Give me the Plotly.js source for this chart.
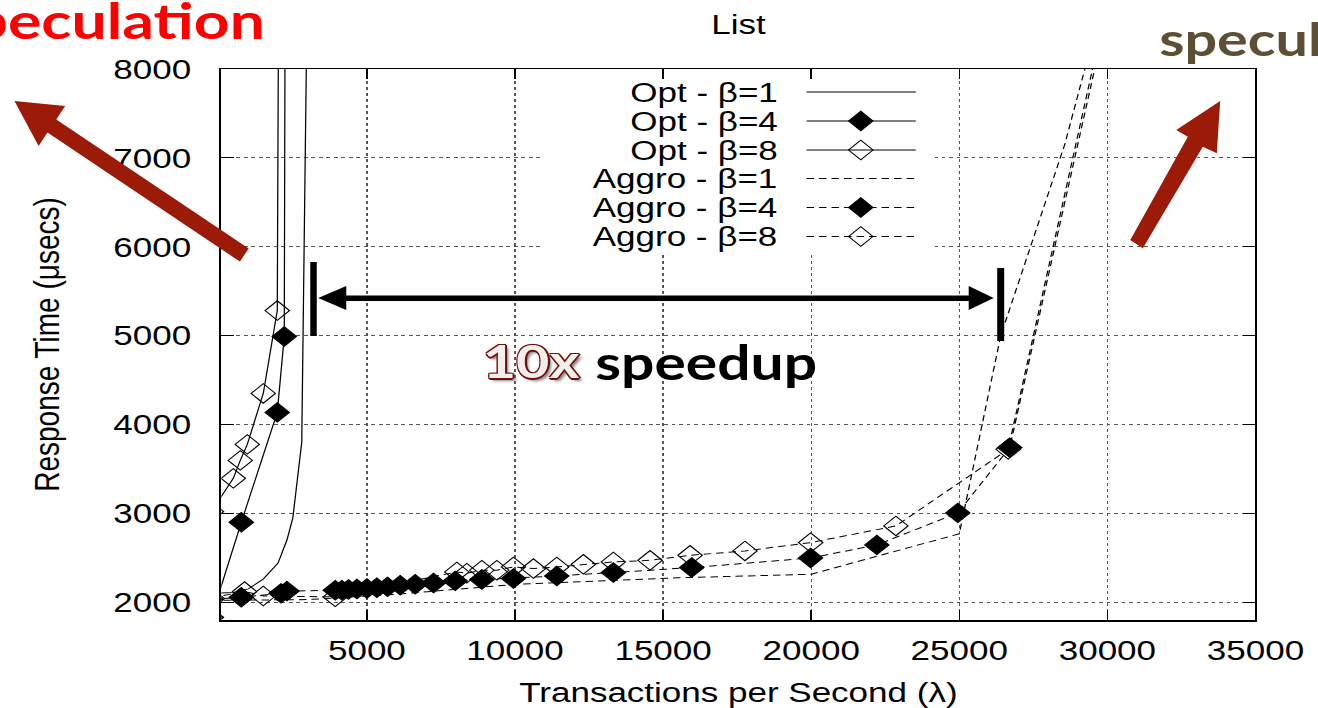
<!DOCTYPE html>
<html><head><meta charset="utf-8">
<script src="https://cdn.plot.ly/plotly-3.0.1.min.js"></script>
<style>
html,body{margin:0;padding:0;background:#fff;overflow:hidden;width:1318px;height:708px}
#chart{width:1054px;height:708px;transform:scaleX(1.25047);transform-origin:0 0;}
</style>
</head><body><div id="chart"></div>
<script>
// ---- data ----
const seriesNames = ['Opt - β=1','Opt - β=4','Opt - β=8','Aggro - β=1','Aggro - β=4','Aggro - β=8'];

const optB1X = [-250, 500, 1000, 1500, 2000, 2300, 2500, 2800, 2990];
const optB1Y = [2100, 2110, 2150, 2260, 2440, 2700, 2950, 3800, 9000];

const optB4X = [-250, 759, 1974, 2210, 2240];
const optB4Y = [1830, 2899, 4136, 4990, 9000];

const optB8X = [-250, 489, 725, 962, 1501, 1974, 2020];
const optB8Y = [3020, 3394, 3596, 3776, 4349, 5282, 9000];

const aggB1X = [-250, 3000, 6000, 10000, 15500, 20000, 25000, 26400, 28560, 30000];
const aggB1Y = [2020, 2030, 2090, 2200, 2275, 2315, 2770, 5000, 7150, 8950];

const aggB4X = [-250, 759, 2100, 2300, 3931, 4156, 4379, 4663, 5000, 5337, 5696, 6124, 6630, 7249, 7981, 8881, 9948, 11411, 13322, 15967, 19981, 22218, 24950, 26702, 30920];
const aggB4Y = [2030, 2056, 2100, 2125, 2135, 2135, 2143, 2148, 2155, 2162, 2173, 2191, 2202, 2217, 2240, 2255, 2267, 2296, 2334, 2390, 2498, 2645, 3005, 3740, 10000];

const aggB8X = [-250, 870, 1500, 3930, 8037, 8374, 8881, 9387, 9948, 10622, 11411, 12309, 13321, 14559, 15909, 17764, 19981, 22859, 26650, 30830];
const aggB8Y = [2050, 2120, 2070, 2060, 2341, 2326, 2360, 2360, 2397, 2379, 2397, 2427, 2453, 2472, 2528, 2577, 2671, 2858, 3720, 10000];

const xTickVals = [5000, 10000, 15000, 20000, 25000, 30000, 35000];
const yTickVals = [2000, 3000, 4000, 5000, 6000, 7000, 8000];

// ---- styles ----
const DASH = '6px,4px';
const styles = [
  {dash:'solid', mode:'lines', symbol:null},
  {dash:'solid', mode:'lines+markers', symbol:'diamond'},
  {dash:'solid', mode:'lines+markers', symbol:'diamond-open'},
  {dash:DASH, mode:'lines', symbol:null},
  {dash:DASH, mode:'lines+markers', symbol:'diamond'},
  {dash:DASH, mode:'lines+markers', symbol:'diamond-open'}
];
const seriesData = [[optB1X,optB1Y],[optB4X,optB4Y],[optB8X,optB8Y],[aggB1X,aggB1Y],[aggB4X,aggB4Y],[aggB8X,aggB8Y]];

// pixel -> paper helpers (final screen pixels)
const PL=221, PR=1256, PT=69, PB=620;
const xp = px => (px-PL)/(PR-PL);
const yp = py => (PB-py)/(PB-PT);

const traces = [];
// legend white box (helper axis in paper-like 0..1 space)
const bx0=xp(540), bx1=xp(935), by0=yp(252), by1=yp(70);
traces.push({x:[bx0,bx1,bx1,bx0,bx0], y:[by0,by0,by1,by1,by0], xaxis:'x2', yaxis:'y2',
  mode:'lines', fill:'toself', fillcolor:'#ffffff', line:{width:0, color:'rgba(0,0,0,0)'},
  hoverinfo:'skip', showlegend:false});

seriesData.forEach((d,i)=>{
  const st = styles[i];
  const t = {x:d[0], y:d[1], name:seriesNames[i], mode:st.mode, type:'scatter',
    line:{color:'#000', width:1, dash:st.dash}, showlegend:false};
  if (st.symbol) t.marker = {symbol:st.symbol, size:15, color:'#000', line:{color:'#000', width:1}};
  traces.push(t);
});

// custom legend (symbols to the right of the text, like gnuplot)
const rowY = [92, 121, 150, 178.5, 207.5, 236.5];
const annotations = [];
seriesNames.forEach((n,i)=>{
  const st = styles[i];
  traces.push({x:[xp(806.7), xp(916)], y:[yp(rowY[i]), yp(rowY[i])], xaxis:'x2', yaxis:'y2',
    mode:'lines', line:{color:'#000', width:1, dash:st.dash}, hoverinfo:'skip', showlegend:false});
  if (st.symbol) traces.push({x:[xp(861)], y:[yp(rowY[i])], xaxis:'x2', yaxis:'y2', mode:'markers',
    marker:{symbol:st.symbol, size:15, color:'#000', line:{color:'#000', width:1}}, hoverinfo:'skip', showlegend:false});
  annotations.push({text:n, xref:'paper', yref:'paper', x:xp(781), y:yp(rowY[i]), xanchor:'right', yanchor:'middle',
    showarrow:false, font:{family:'Liberation Sans, Arial, sans-serif', size:28, color:'#000'}});
});

// overlay callouts
annotations.push({text:'<b>Speculation</b>', xref:'paper', yref:'paper', x:xp(267), y:yp(20), xanchor:'right', yanchor:'middle',
  showarrow:false, font:{family:'Lato, sans-serif', size:50, color:'#ff0000'}});
annotations.push({text:'<b>speculation</b>', xref:'paper', yref:'paper', x:xp(1157), y:yp(39), xanchor:'left', yanchor:'middle',
  showarrow:false, font:{family:'Lato, sans-serif', size:46, color:'#5c4f33'}});
annotations.push({text:'<b>10x</b>', xref:'paper', yref:'paper', x:xp(531), y:yp(360), xanchor:'center', yanchor:'middle',
  showarrow:false, font:{family:'Lato, sans-serif', size:46, color:'#f3eeee',
  shadow:'1px 1px 0 #6e1208, -1px -1px 0 #6e1208, 1px -1px 0 #6e1208, -1px 1px 0 #6e1208, 0 2px 0 #6e1208, 2px 0 0 #6e1208, 3px 3px 3px #888'}});
annotations.push({text:'<b>speedup</b>', xref:'paper', yref:'paper', x:xp(706), y:yp(362), xanchor:'center', yanchor:'middle',
  showarrow:false, font:{family:'Lato, sans-serif', size:47, color:'#000'}});

// shapes: red arrows and black double arrow
const P = pts => 'M' + pts.map(p=>xp(p[0])+','+yp(p[1])).join(' L') + ' Z';
const RED = '#9c1a08';
const shapes = [
  {type:'path', xref:'paper', yref:'paper', path:P([[248.4,248.4],[55.8,119.4],[64.7,106],[14,101],[38.1,146],[47,132.6],[239.6,261.6]]),
   fillcolor:RED, line:{width:0}, layer:'above'},
  {type:'path', xref:'paper', yref:'paper', path:P([[1130.7,240],[1188.3,136.7],[1176.7,130],[1220.7,101],[1217.3,153.3],[1203.3,146.7],[1143.3,248.3]]),
   fillcolor:RED, line:{width:0}, layer:'above'},
  {type:'rect', xref:'paper', yref:'paper', x0:xp(340), x1:xp(975), y0:yp(301), y1:yp(295.5), fillcolor:'#000', line:{width:0}, layer:'above'},
  {type:'rect', xref:'paper', yref:'paper', x0:xp(310), x1:xp(316.5), y0:yp(336), y1:yp(262), fillcolor:'#000', line:{width:0}, layer:'above'},
  {type:'rect', xref:'paper', yref:'paper', x0:xp(997.5), x1:xp(1004.5), y0:yp(341), y1:yp(268), fillcolor:'#000', line:{width:0}, layer:'above'},
  {type:'path', xref:'paper', yref:'paper', path:P([[318,298],[346,286],[346,310]]), fillcolor:'#000', line:{width:0}, layer:'above'},
  {type:'path', xref:'paper', yref:'paper', path:P([[994,298],[969,286],[969,310]]), fillcolor:'#000', line:{width:0}, layer:'above'}
];

const tickFont = {family:'Liberation Sans, Arial, sans-serif', size:28, color:'#000'};
const layout = {
  width:1054, height:708,
  margin:{l:176.7, r:49.6, t:69, b:88, pad:0},
  paper_bgcolor:'#fff', plot_bgcolor:'#fff',
  showlegend:false,
  title:{text:'List', font:{family:'Liberation Sans, Arial, sans-serif', size:28, color:'#000'},
    x:0.5, xref:'paper', xanchor:'center', y:1-24/708, yref:'container', yanchor:'middle'},
  xaxis:{range:[85,35000], tickvals:xTickVals, ticktext:xTickVals.map(String), ticks:'inside', ticklen:10, tickwidth:1.2,
    tickcolor:'#000', showline:true, linecolor:'#000', linewidth:1.5, mirror:'ticks',
    showgrid:true, gridcolor:'#555', griddash:'dot', gridwidth:1, zeroline:false,
    tickfont:tickFont, ticklabelstandoff:5,
    title:{text:'Transactions per Second (λ)', font:tickFont, standoff:19}},
  yaxis:{range:[1800,8000], tickvals:yTickVals, ticktext:yTickVals.map(String), ticks:'inside', ticklen:10, tickwidth:1.2,
    tickcolor:'#000', showline:true, linecolor:'#000', linewidth:1.5, mirror:'ticks',
    showgrid:true, gridcolor:'#555', griddash:'dot', gridwidth:1, zeroline:false,
    tickfont:tickFont, ticklabelstandoff:17,
    title:{text:'Response Time (μsecs)', font:tickFont, standoff:34}},
  xaxis2:{overlaying:'x', range:[0,1], visible:false, fixedrange:true},
  yaxis2:{overlaying:'y', range:[0,1], visible:false, fixedrange:true},
  annotations:annotations,
  shapes:shapes
};
Plotly.newPlot('chart', traces, layout, {displayModeBar:false, staticPlot:true});
</script></body></html>
